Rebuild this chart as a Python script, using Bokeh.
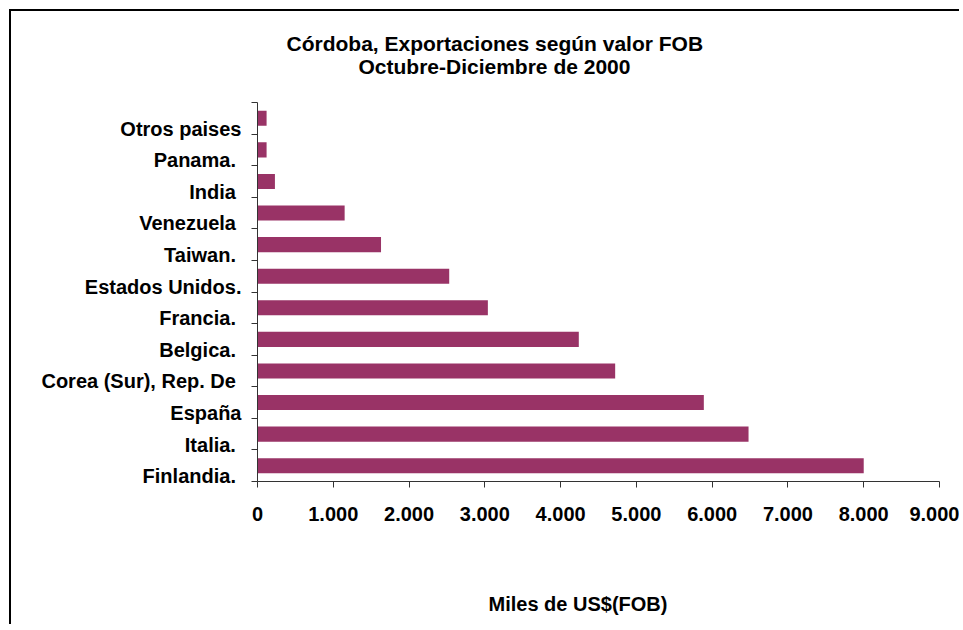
from bokeh.plotting import figure
from bokeh.models import ColumnDataSource, Range1d, FixedTicker, Title, LinearAxis
from bokeh.embed import file_html
from bokeh.resources import INLINE

# Data (bottom to top)
countries = ["Finlandia. ", "Italia. ", "España", "Corea (Sur), Rep. De ", "Belgica. ",
             "Francia. ", "Estados Unidos.", "Taiwan. ", "Venezuela ", "India ",
             "Panama. ", "Otros paises"]
values = [8000, 6480, 5890, 4720, 4240, 3040, 2530, 1630, 1150, 230, 120, 120]
x_ticks = [0, 1000, 2000, 3000, 4000, 5000, 6000, 7000, 8000, 9000]
x_tick_labels = ["0", "1.000", "2.000", "3.000", "4.000", "5.000", "6.000", "7.000", "8.000", "9.000"]
title_lines = ["Córdoba, Exportaciones según valor FOB", "Octubre-Diciembre de 2000"]
x_title = "Miles de US$(FOB)"

FONT = "Liberation Sans"
BAR = "#993366"
AXIS = "#333333"

idx = list(range(len(countries)))
src = ColumnDataSource(dict(y=idx, v=values, name=countries))

p = figure(width=950, height=615, output_backend="svg", toolbar_location=None,
           x_range=Range1d(0, 9000), y_range=Range1d(-0.5, len(countries) - 0.5),
           min_border_left=246, min_border_right=22, min_border_top=91, min_border_bottom=145,
           styles={"border-left": "2px solid #000", "border-top": "2px solid #000",
                   "margin-left": "9px", "margin-top": "9px"})
p.outline_line_color = None
p.xgrid.grid_line_color = None
p.ygrid.grid_line_color = None
p.background_fill_color = "white"
p.border_fill_color = "white"

p.hbar(y="y", right="v", left=0, height=0.48, source=src, fill_color=BAR, line_color=None)

# x axis
xa = p.xaxis[0]
xa.ticker = FixedTicker(ticks=x_ticks, minor_ticks=[])
xa.major_label_overrides = {t: l for t, l in zip(x_ticks, x_tick_labels)}
xa.major_tick_out = 6
xa.major_tick_in = 0
xa.minor_tick_out = 0
xa.minor_tick_in = 0
xa.axis_line_color = AXIS
xa.major_tick_line_color = AXIS
xa.major_label_standoff = 19
xa.major_label_text_font = FONT
xa.major_label_text_font_style = "bold"
xa.major_label_text_font_size = "20px"
xa.major_label_text_color = "black"

# y axis: labels slightly below each bar, tick marks between categories
ya = p.yaxis[0]
label_pos = [i - 0.33 for i in idx]
bounds = [i - 0.5 for i in range(len(countries) + 1)]
ya.ticker = FixedTicker(ticks=label_pos, minor_ticks=bounds)
ya.major_label_overrides = {t: c for t, c in zip(label_pos, countries)}
ya.major_tick_out = 0
ya.major_tick_in = 0
ya.minor_tick_out = 6
ya.minor_tick_in = 0
ya.axis_line_color = AXIS
ya.minor_tick_line_color = AXIS
ya.major_label_standoff = 10
ya.major_label_text_font = FONT
ya.major_label_text_font_style = "bold"
ya.major_label_text_font_size = "20px"
ya.major_label_text_color = "black"

def spacer(size):
    # invisible axis (white tick on white, no label) used only to reserve vertical space
    return LinearAxis(ticker=FixedTicker(ticks=[x_ticks[0]], minor_ticks=[]),
                      major_label_overrides={x_ticks[0]: ""},
                      major_label_text_font_size="0px",
                      major_tick_out=size, major_tick_in=0, minor_tick_out=0, minor_tick_in=0,
                      major_label_standoff=0, axis_line_color=None,
                      major_tick_line_color="white", minor_tick_line_color=None)

def make_title(txt, size, offset, standoff):
    return Title(text=txt, align="left", offset=offset, standoff=standoff,
                 text_font=FONT, text_font_style="bold", text_font_size=size,
                 text_color="black")

# above: stacked from the frame outward
p.add_layout(spacer(25), "above")
p.add_layout(make_title(title_lines[1], "21px", 101, 0), "above")
p.add_layout(make_title(title_lines[0], "21px", 29, -4), "above")
# below: after the x axis
p.add_layout(spacer(67), "below")
p.add_layout(make_title(x_title, "20px", 231, 0), "below")

open("out.html", "w").write(file_html(p, INLINE))
